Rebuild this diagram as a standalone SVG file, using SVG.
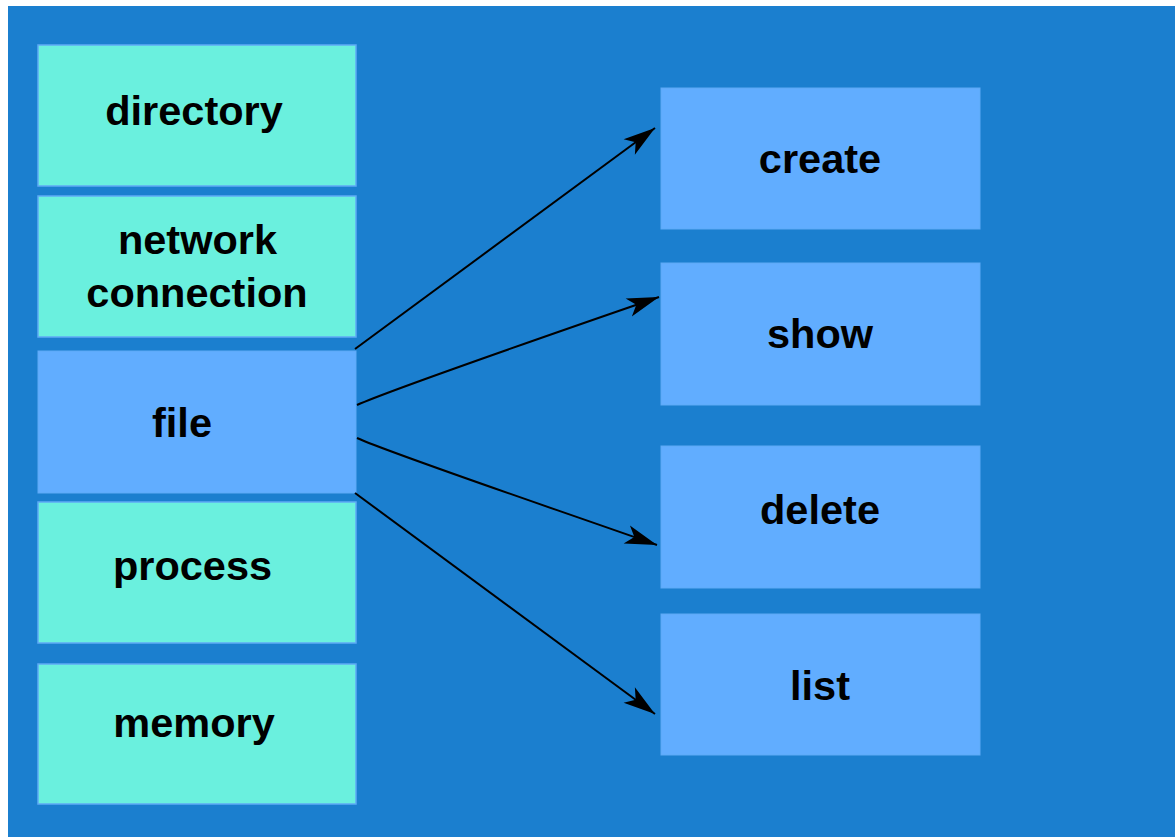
<svg xmlns="http://www.w3.org/2000/svg" width="1175" height="837" viewBox="0 0 1175 837">
<style>
.bg{fill:#1b7fcf}
.g{fill:#6af0de;stroke:#5faaf6;stroke-width:1.5}
.b{fill:#61adff;stroke:#5faaf6;stroke-width:1}
.t{font-family:"Liberation Sans",Arial,sans-serif;font-weight:bold;font-size:41.5px;fill:#000;text-anchor:middle}
.c{fill:none;stroke:#000;stroke-width:2}
</style>
<defs>
<marker id="ah" markerUnits="userSpaceOnUse" viewBox="-34 -11 36 22" markerWidth="36" markerHeight="22" refX="0" refY="0" orient="auto">
<path d="M0,0 L-32,-9.5 L-24,0 L-32,9.5 Z" fill="#000"/>
</marker>
</defs>
<rect width="1175" height="837" fill="#fff"/>
<rect class="bg" x="8" y="6" width="1167" height="831"/>
<g id="directory"><rect class="g" x="38" y="45" width="318" height="141"/><text class="t" x="194" y="125">directory</text></g>
<g id="network"><rect class="g" x="38" y="196" width="318" height="141"/><text class="t" x="197.5" y="254">network</text><text class="t" x="197" y="306.5">connection</text></g>
<g id="file"><rect class="b" x="38" y="351" width="318" height="142"/><text class="t" x="182" y="437">file</text></g>
<g id="process"><rect class="g" x="38" y="502" width="318" height="141"/><text class="t" x="192.5" y="580">process</text></g>
<g id="memory"><rect class="g" x="38" y="664" width="318" height="140"/><text class="t" x="194" y="737">memory</text></g>
<g id="create"><rect class="b" x="661" y="88" width="319" height="141"/><text class="t" x="820" y="173">create</text></g>
<g id="show"><rect class="b" x="661" y="263" width="319" height="142"/><text class="t" x="820" y="348">show</text></g>
<g id="delete"><rect class="b" x="661" y="446" width="319" height="142"/><text class="t" x="820" y="524">delete</text></g>
<g id="list"><rect class="b" x="661" y="614" width="319" height="141"/><text class="t" x="820" y="700">list</text></g>
<g id="connectors">
<path class="c" d="M355,349 L655,128" marker-end="url(#ah)"/>
<path class="c" d="M357,405 C390,390 520,345 659,297" marker-end="url(#ah)"/>
<path class="c" d="M357,438 C390,453 520,497 657,545" marker-end="url(#ah)"/>
<path class="c" d="M355,493 L655,714" marker-end="url(#ah)"/>
</g>
</svg>
